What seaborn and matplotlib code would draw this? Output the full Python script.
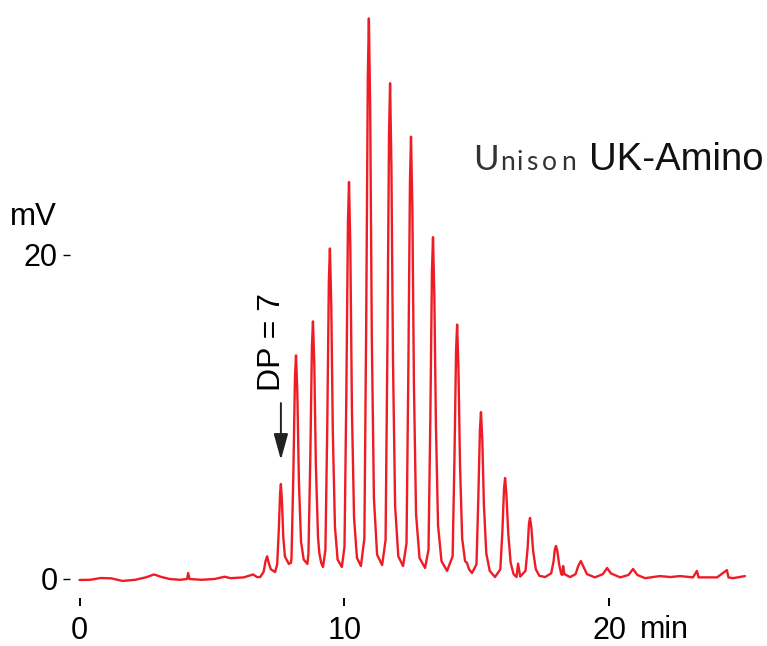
import matplotlib
matplotlib.use("Agg")
import matplotlib.pyplot as plt
import seaborn as sns
import pandas as pd

# Chromatogram trace vertices (time in min, signal in mV)
time_min = [
    0.00, 0.40, 0.80, 1.20, 1.62, 2.10, 2.50, 2.81, 3.10, 3.40, 3.80, 4.06, 4.10, 4.15,
    4.60, 5.10, 5.48, 5.70, 6.20, 6.55, 6.70, 6.82,
    6.95, 7.02, 7.08, 7.14, 7.22, 7.38,
    7.46, 7.52, 7.57, 7.60, 7.64, 7.69, 7.75, 7.82, 7.90, 7.98,
    8.00, 8.07, 8.13, 8.17, 8.22, 8.28, 8.36, 8.46, 8.60,
    8.64, 8.71, 8.77, 8.81, 8.86, 8.92, 9.00, 9.05, 9.12, 9.19,
    9.28, 9.35, 9.41, 9.45, 9.50, 9.56, 9.64, 9.74, 9.90,
    10.00, 10.07, 10.13, 10.17, 10.22, 10.28, 10.36, 10.47, 10.62,
    10.75, 10.82, 10.88, 10.92, 10.97, 11.03, 11.11, 11.23, 11.42,
    11.55, 11.62, 11.68, 11.72, 11.77, 11.83, 11.91, 12.03, 12.21,
    12.34, 12.41, 12.47, 12.51, 12.56, 12.62, 12.70, 12.83, 13.04,
    13.17, 13.24, 13.30, 13.34, 13.39, 13.45, 13.53, 13.66, 13.87,
    14.08, 14.15, 14.21, 14.25, 14.30, 14.36, 14.44, 14.55, 14.62, 14.70, 14.81,
    14.98, 15.05, 15.11, 15.15, 15.20, 15.26, 15.35, 15.48, 15.68,
    15.88, 15.96, 16.02, 16.06, 16.11, 16.18, 16.27, 16.38, 16.49, 16.55, 16.63,
    16.83, 16.91, 16.96, 17.00, 17.05, 17.12, 17.22, 17.35, 17.57,
    17.80, 17.89, 17.94, 17.98, 18.03, 18.10, 18.18, 18.22, 18.25, 18.30, 18.51,
    18.72, 18.82, 18.92, 19.02, 19.15, 19.45,
    19.75, 19.91, 20.05, 20.40,
    20.72, 20.89, 21.05, 21.34,
    21.90, 22.30, 22.66, 23.15, 23.30, 23.36, 23.49, 24.06, 24.43, 24.49, 24.66, 24.90, 25.11,
]
signal_mv = [
    -0.06, -0.05, 0.06, 0.04, -0.12, -0.05, 0.10, 0.28, 0.12, 0.00, -0.05, 0.00, 0.37, 0.00,
    -0.05, 0.00, 0.14, 0.05, 0.10, 0.28, 0.12, 0.12,
    0.45, 1.10, 1.40, 1.00, 0.60, 0.43,
    0.90, 3.00, 5.30, 5.86, 4.80, 2.60, 1.40, 1.17, 0.93, 1.00,
    1.30, 6.50, 12.4, 13.8, 11.5, 6.00, 2.30, 1.20, 0.93,
    1.60, 7.50, 14.3, 15.9, 13.3, 7.00, 2.60, 1.60, 1.00, 0.74,
    1.80, 9.50, 18.4, 20.4, 17.0, 9.00, 3.20, 1.20, 0.74,
    2.00, 11.5, 22.0, 24.5, 20.5, 10.5, 3.80, 1.30, 0.80,
    2.50, 16.0, 31.0, 34.6, 29.0, 15.0, 5.00, 1.50, 0.86,
    2.40, 14.5, 27.5, 30.6, 25.5, 13.5, 4.50, 1.40, 0.80,
    2.20, 13.0, 24.5, 27.3, 23.0, 12.0, 4.00, 1.30, 0.68,
    1.80, 10.0, 19.0, 21.1, 17.5, 9.50, 3.30, 1.10, 0.50,
    1.40, 7.50, 14.1, 15.7, 13.0, 7.00, 2.50, 1.10, 1.00, 0.60, 0.37,
    0.90, 5.00, 9.20, 10.3, 8.60, 4.60, 1.60, 0.50, 0.12,
    0.60, 3.00, 5.60, 6.23, 5.20, 2.80, 1.00, 0.30, 0.12, 0.95, 0.15,
    0.50, 1.90, 3.40, 3.77, 3.20, 1.70, 0.60, 0.20, 0.12,
    0.35, 1.10, 1.85, 2.04, 1.75, 0.90, 0.30, 0.25, 0.80, 0.30, 0.12,
    0.30, 0.80, 1.11, 0.75, 0.30, 0.10,
    0.30, 0.68, 0.35, 0.10,
    0.25, 0.62, 0.25, 0.05,
    0.18, 0.12, 0.18, 0.10, 0.50, 0.10, 0.10, 0.10, 0.55, 0.10, 0.05, 0.12, 0.18,
]
x_ticks = [0, 10, 20]
x_tick_labels = ["0", "10", "20"]
y_ticks = [0, 20]
y_tick_labels = ["0", "20"]
dp_peak_time = 7.60

df = pd.DataFrame({"time": time_min, "signal": signal_mv})

sns.set_theme(style="white")
regular = ["Liberation Sans", "DejaVu Sans"]
plt.rcParams["font.family"] = regular

W, H = 767, 646
fig = plt.figure(figsize=(W / 100, H / 100), dpi=100)
ax = fig.add_axes([70 / W, 48 / H, 680 / W, 588 / H])

sns.lineplot(data=df, x="time", y="signal", ax=ax, color="#ee1c25",
             linewidth=1.7, sort=False, estimator=None)

ax.set_xlim(-0.3585, 25.302)
ax.set_ylim(-1.173, 35.12)
for s in ax.spines.values():
    s.set_visible(False)
ax.set_xlabel("")
ax.set_ylabel("")

ax.set_xticks(x_ticks)
ax.set_xticklabels(x_tick_labels, fontsize=22)
ax.set_yticks(y_ticks)
ax.set_yticklabels(y_tick_labels, fontsize=22)
ax.tick_params(axis="x", direction="out", length=6, width=1.4, color="black",
               pad=7, bottom=True, labelcolor="black")
ax.tick_params(axis="y", direction="out", length=5, width=1.0, color="black",
               pad=4, left=True, labelcolor="black")

# units
fig.text(10 / W, (H - 217) / H, "mV", fontsize=22.5, va="center", ha="left", color="black")
fig.text(640 / W, (H - 630) / H, "min", fontsize=22, va="center", ha="left",
         color="black")

# DP = 7 annotation
ax.annotate("", xy=(dp_peak_time, 7.35), xytext=(dp_peak_time, 10.86),
            arrowprops=dict(arrowstyle="-|>,head_length=0.8,head_width=0.22",
                            color="#222222", lw=1.4, mutation_scale=20,
                            shrinkA=0, shrinkB=0))
ax.text(7.26, 14.6, "DP = 7", rotation=90, ha="center", va="center",
        fontsize=23, color="black")

# Column name: "Unison" logo-type (large U, widely spaced small letters)
lato = ["Lato", "DejaVu Sans"]
base_y = (H - 170) / H
fig.text(473 / W, base_y, "U", fontsize=25, fontfamily=lato,
         va="baseline", ha="left", color="#333333")
for letter, px in zip("nison", [500, 517, 526, 542, 561]):
    fig.text(px / W, base_y, letter, fontsize=19, fontfamily=lato,
             va="baseline", ha="left", color="#333333")
fig.text(589 / W, base_y, "UK-Amino", fontsize=27.5, va="baseline", ha="left",
         color="#111111")

fig.savefig("out.png", dpi=100)
